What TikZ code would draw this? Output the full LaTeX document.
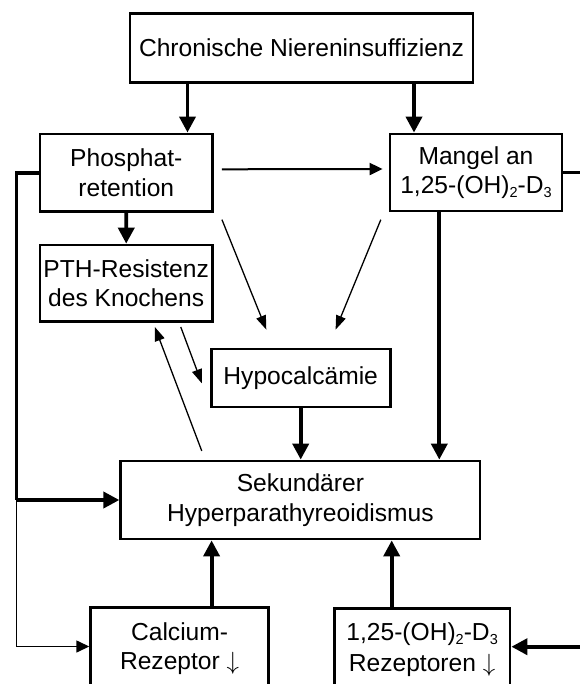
\documentclass[tikz,border=0pt]{standalone}
\usepackage{fontspec}
\setmainfont{Liberation Sans}
\usetikzlibrary{arrows.meta,calc}
\newcommand{\lowidx}[1]{\raisebox{-4pt}{\fontsize{14.5}{14.5}\selectfont #1}}
\newcommand{\dnarrow}{ $\downarrow$}
\begin{document}
\begin{tikzpicture}[x=1pt,y=-1pt,
  box/.style={draw, line width=2.8pt, inner sep=0pt, align=center,
    font=\fontsize{24.6}{29.5}\selectfont},
  thickarr/.style={line width=3.8pt, -{Triangle[length=16pt,width=16pt]}},
  medarr/.style={line width=2pt, -{Triangle[length=13pt,width=12pt]}},
  thinarr/.style={line width=1.3pt, -{Triangle[length=14pt,width=10pt]}},
  thinline/.style={line width=1.4pt, -{Triangle[length=13pt,width=12pt]}},
  thickline/.style={line width=3.6pt},
]
\useasboundingbox (0,0) rectangle (579,684);

\node[box, minimum width=343pt, minimum height=69.5pt] (chron) at (301.5,48) {Chronische Niereninsuffizienz};
\node[box, minimum width=172.5pt, minimum height=77.7pt] (phos) at (126.3,172.8) {Phosphat-\\retention};
\node[box, minimum width=172pt, minimum height=77pt] (mangel) at (476,172.5) {Mangel an\\1,25-(OH)\lowidx{2}-D\lowidx{3}};
\node[box, minimum width=172.3pt, minimum height=76.5pt] (pth) at (126.2,283.3) {PTH-Resistenz\\des Knochens};
\node[box, minimum width=179pt, minimum height=58pt] (hypo) at (300.7,378) {Hypocalcämie};
\node[box, minimum width=359.3pt, minimum height=78pt] (sek) at (300.4,500) {Sekundärer\\Hyperparathyreoidismus};
\node[box, minimum width=177.8pt, minimum height=82pt] (calc) at (179.6,648.5) {Calcium-\\Rezeptor\dnarrow};
\node[box, minimum width=175.8pt, minimum height=82pt] (rez) at (422.1,649.5) {1,25-(OH)\lowidx{2}-D\lowidx{3}\\[2pt]Rezeptoren\dnarrow};

\coordinate (redge1) at (590,172.5);
\coordinate (redge2) at (590,646.7);
\coordinate (lj) at (16.3,500);
\coordinate (lb) at (16.3,646.5);

% thick vertical arrows
\draw[thickarr] (187.5,0 |- chron.south) -- (187.5,0 |- phos.north);
\draw[thickarr] (414,0 |- chron.south) -- (414,0 |- mangel.north);
\draw[thickarr] (phos.south) -- (pth.north);
\draw[thickarr] (hypo.south) -- (hypo.south |- sek.north);
\draw[thickarr] (439.3,0 |- mangel.south) -- (439.3,0 |- sek.north);
\draw[thickarr] (211.6,0 |- calc.north) -- (211.6,0 |- sek.south);
\draw[thickarr] (391.7,0 |- rez.north) -- (391.7,0 |- sek.south);

% Phosphat -> Mangel
\draw[medarr] ($(phos.east)+(8,-3.5)$) -- ($(mangel.west)+(-6,-3.5)$);

% left loop
\draw[thickline] (phos.west) -- (lj |- phos.west) -- (lj);
\draw[thickarr] (lj) -- (lj -| sek.west);
\draw[thinline] (lj) -- (lb) -- (lb -| calc.west);

% right side
\draw[thickline] (mangel.east) -- (redge1);
\draw[thickarr] (redge2) -- (rez.east |- redge2);

% thin diagonals
\draw[thinarr] ($(phos.south east)+(8,6.6)$) -- ($(hypo.north west)+(56.5,-18)$);
\draw[thinarr] ($(mangel.south west)+(-7.8,7.3)$) -- ($(hypo.north east)+(-56,-18)$);
\draw[thinarr] ($(pth.south east)+(-33,4)$) -- ($(hypo.west)+(-8,5.3)$);
\draw[thinarr] ($(sek.north west)+(82.4,-8.7)$) -- ($(pth.south)+(28.6,4)$);
\end{tikzpicture}
\end{document}
